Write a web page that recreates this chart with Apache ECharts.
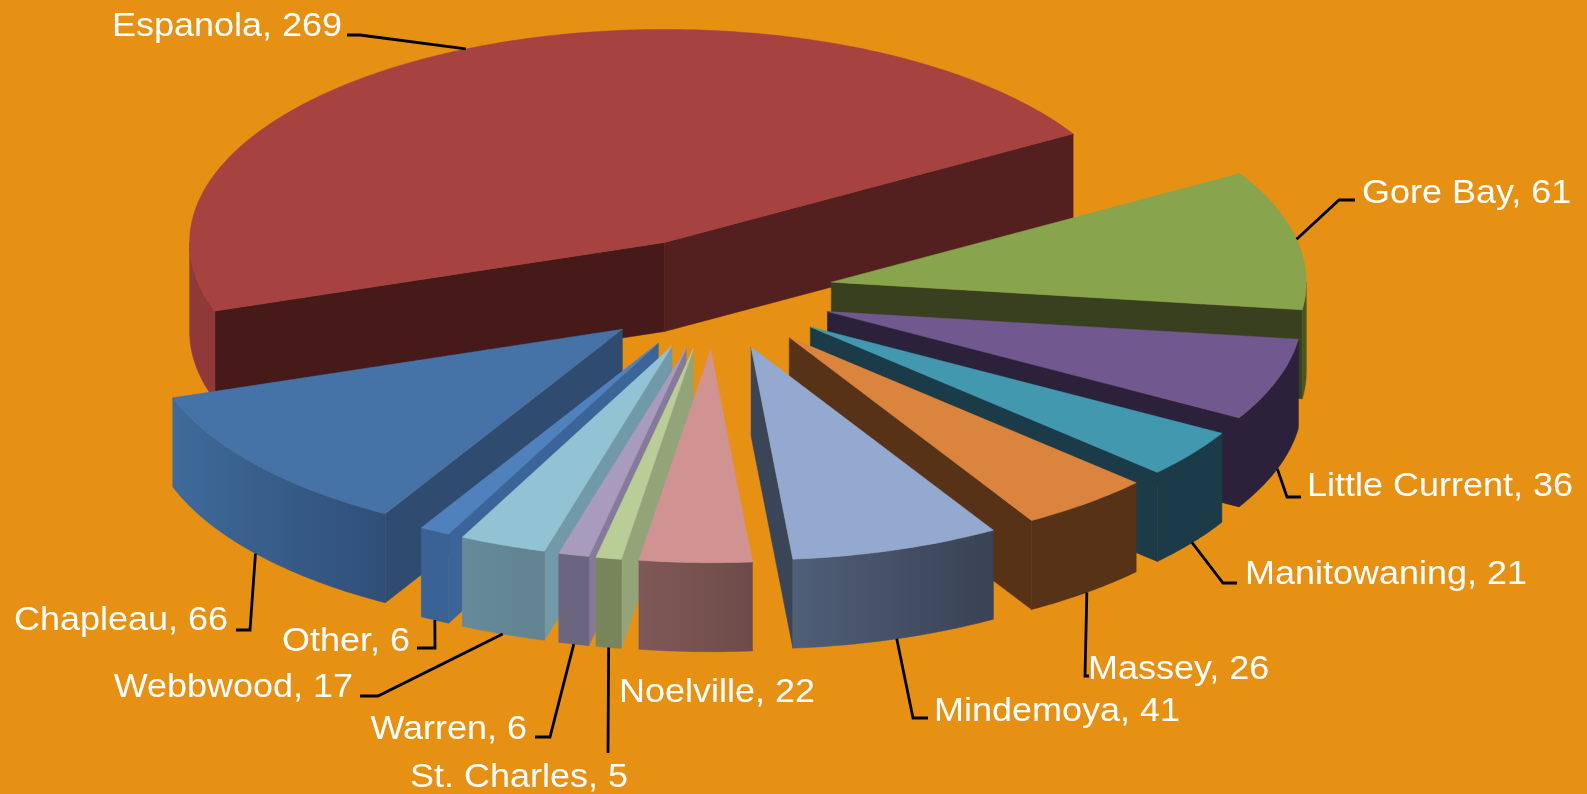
<!DOCTYPE html>
<html>
<head>
<meta charset="utf-8">
<title>Exploded 3D pie</title>
<script src="https://cdn.jsdelivr.net/npm/echarts@6/dist/echarts.min.js"></script>
<style>
  html, body { margin: 0; padding: 0; background: #e69114; }
  #main { width: 1587px; height: 794px; }
</style>
</head>
<body>
<div id="main"></div>
<script>
// data, clockwise from the big slice
var categories = ['Espanola', 'Gore Bay', 'Little Current', 'Manitowaning', 'Massey', 'Mindemoya',
  'Noelville', 'St. Charles', 'Warren', 'Webbwood', 'Other', 'Chapleau'];
var values = [269, 61, 36, 21, 26, 41, 22, 5, 6, 17, 6, 66];

// colours per slice
var topColors = ['#a64240', '#88a44c', '#71588f', '#4198af', '#db843d', '#93a9cf',
  '#d19392', '#b9cd96', '#a99bbd', '#92c3d4', '#4f81bd', '#4572a7'];
var innerColors = ['#451a19', '#384020', '#2c213a', '#1a3b47', '#573216', '#3b4558',
  '#6e4b4a', '#93a578', '#857a99', '#7199a8', '#3b6498', '#2f4b70'];
var innerColors2 = ['#53201f', '#384020', '#2c213a', '#1a3b47', '#573216', '#3b4558',
  '#6e4b4a', '#93a578', '#857a99', '#7199a8', '#3b6498', '#2f4b70'];
var outerFrom = ['#8f3938', '#46561f', '#2c213a', '#1a3b47', '#573216', '#4f5f78',
  '#7f5958', '#76855a', '#6c6580', '#668a9a', '#3a6295', '#3f6a9a'];
var outerTo = ['#8f3938', '#46561f', '#2c213a', '#1a3b47', '#573216', '#3a4254',
  '#6e4b4a', '#76855a', '#6c6580', '#62838f', '#3a6295', '#2f4f78'];

// label layout in pixels: leader bend points, text anchor, text side
var labelBends = [
  [[360, 35], [347, 35]],
  [[1339, 200], [1355, 200]],
  [[1287, 497], [1301, 497]],
  [[1223, 583], [1237, 583]],
  [[1085, 676], [1089, 676]],
  [[913, 718], [928, 718]],
  null,
  [[608, 753]],
  [[550, 737], [535, 737]],
  [[378, 696], [360, 696]],
  [[435, 648], [417, 648]],
  [[250, 630], [236, 630]]
];
var labelAnchors = [[342, 27], [1362, 194], [1307, 487], [1245, 575], [1088, 670], [934, 712],
  [619, 693], [410, 778], [527, 730], [353, 688], [410, 642], [228, 621]];
var labelAligns = ['right', 'left', 'left', 'left', 'left', 'left',
  'left', 'left', 'right', 'right', 'right', 'right'];

// pie geometry, in axis units where the ellipse is the unit circle
var START_ANGLE = 198.8;
var EXPLODE_X = 0.251;
var EXPLODE_Y = 0.264;
var DEPTH = 0.418;

var total = values.reduce(function (a, b) { return a + b; }, 0);
var slices = [];
var angle = START_ANGLE;
values.forEach(function (v, i) {
  var sweep = v / total * 360;
  slices.push({ index: i, from: angle, to: angle - sweep, mid: angle - sweep / 2 });
  angle -= sweep;
});

function rad(a) { return a * Math.PI / 180; }

function apexOf(s) {
  return [EXPLODE_X * Math.cos(rad(s.mid)), EXPLODE_Y * Math.sin(rad(s.mid))];
}

function rimPoint(s, a, drop) {
  var apex = apexOf(s);
  return [apex[0] + Math.cos(rad(a)), apex[1] + Math.sin(rad(a)) - (drop || 0)];
}

function arcPoints(s, from, to, drop, api) {
  var steps = Math.max(2, Math.ceil(Math.abs(from - to)));
  var pts = [];
  for (var i = 0; i <= steps; i++) {
    pts.push(api.coord(rimPoint(s, from + (to - from) * i / steps, drop)));
  }
  return pts;
}

function face(points, fill) {
  return { type: 'polygon', shape: { points: points }, style: { fill: fill, stroke: fill, lineWidth: 0.5 } };
}

function radialWall(s, a, fill, api) {
  var apex = apexOf(s);
  return face([
    api.coord(apex),
    api.coord(rimPoint(s, a, 0)),
    api.coord(rimPoint(s, a, DEPTH)),
    api.coord([apex[0], apex[1] - DEPTH])
  ], fill);
}

// the part of the rim that faces the viewer (sin < 0), split where it crosses 180 / 360
function frontRanges(s) {
  var out = [];
  var hi = s.from, lo = s.to;
  [[180, 360], [-180, 0]].forEach(function (r) {
    var a = Math.min(hi, r[1]), b = Math.max(lo, r[0]);
    if (a > b) out.push([a, b]);
  });
  return out;
}

function renderSlice(params, api) {
  var s = slices[api.value(0)];
  var i = s.index;
  var children = [];

  if (Math.cos(rad(s.from)) < 0) children.push(radialWall(s, s.from, innerColors[i], api));
  if (Math.cos(rad(s.to)) > 0) children.push(radialWall(s, s.to, innerColors2[i], api));

  frontRanges(s).forEach(function (r) {
    var upper = arcPoints(s, r[1], r[0], 0, api);
    var lower = arcPoints(s, r[0], r[1], DEPTH, api);
    children.push(face(upper.concat(lower), new echarts.graphic.LinearGradient(0, 0, 1, 0, [
      { offset: 0, color: outerFrom[i] },
      { offset: 1, color: outerTo[i] }
    ])));
  });

  children.push(face([api.coord(apexOf(s))].concat(arcPoints(s, s.from, s.to, 0, api)), topColors[i]));
  return { type: 'group', children: children };
}

function renderLabel(params, api) {
  var i = api.value(0);
  var s = slices[i];
  var children = [];
  if (labelBends[i]) {
    var front = Math.sin(rad(s.mid)) < 0;
    var start = api.coord(rimPoint(s, s.mid, front ? DEPTH : 0));
    children.push({
      type: 'polyline',
      shape: { points: [start].concat(labelBends[i]) },
      style: { fill: null, stroke: '#000', lineWidth: 2.8 }
    });
  }
  children.push({
    type: 'text',
    x: labelAnchors[i][0],
    y: labelAnchors[i][1],
    scaleX: 1.09,
    style: {
      text: categories[i] + ', ' + values[i],
      fill: '#fff',
      font: '33px "Liberation Sans", Arial, sans-serif',
      align: labelAligns[i],
      verticalAlign: 'middle'
    }
  });
  return { type: 'group', children: children };
}

// back slices first so that the front ones paint over them
var drawOrder = slices.slice().sort(function (a, b) {
  return Math.sin(rad(b.mid)) - Math.sin(rad(a.mid));
}).map(function (s) { return [s.index]; });

var myChart = echarts.init(document.getElementById('main'));
myChart.setOption({
  animation: false,
  backgroundColor: '#e69114',
  grid: { left: 239.5, top: 80.5, width: 950, height: 426 },
  xAxis: { type: 'value', min: -1, max: 1, show: false },
  yAxis: { type: 'value', min: -1, max: 1, show: false },
  series: [{
    type: 'custom',
    silent: true,
    renderItem: renderSlice,
    encode: { x: 0 },
    data: drawOrder,
    z: 2
  }, {
    type: 'custom',
    silent: true,
    renderItem: renderLabel,
    encode: { x: 0 },
    data: categories.map(function (c, i) { return [i]; }),
    z: 3
  }]
});
</script>
</body>
</html>
